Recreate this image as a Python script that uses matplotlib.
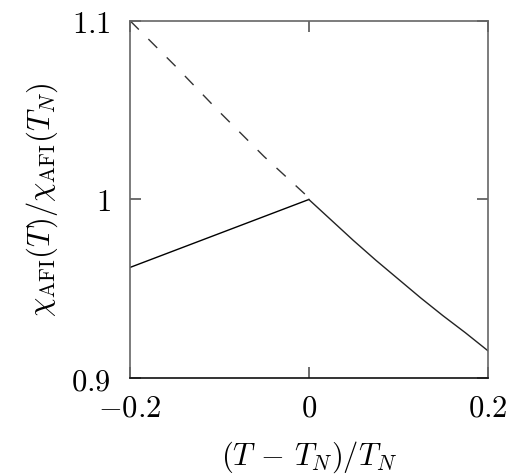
import matplotlib
matplotlib.use("Agg")
import matplotlib.pyplot as plt

plt.rcParams['mathtext.fontset'] = 'cm'
plt.rcParams['font.family'] = ['DejaVu Serif']

# dashed extrapolation (paramagnetic curve continued below T_N)
x_dash = [-0.2, -0.15, -0.1, -0.05, 0.0]
y_dash = [1.1, 1.075, 1.049, 1.024, 1.001]
# solid below T_N
x_low = [-0.2, 0.0]
y_low = [0.962, 1.0]
# solid above T_N
x_high = [0.0, 0.025, 0.05, 0.075, 0.1, 0.125, 0.15, 0.175, 0.2]
y_high = [1.0, 0.9885, 0.977, 0.966, 0.9555, 0.945, 0.935, 0.9255, 0.9155]

xticks = [-0.2, 0.0, 0.2]
xtick_labels = [r'$-0.2$', r'$0$', r'$0.2$']
yticks = [0.9, 1.0, 1.1]
ytick_labels = [r'$0.9$', r'$1$', r'$1.1$']

fig = plt.figure(figsize=(5.13, 4.75), dpi=100)
ax = fig.add_axes([130/513, 1-378.3/475, (487.7-130)/513, (378.3-20.7)/475])

ax.plot(x_dash, y_dash, color='#333333', lw=1.0, dashes=(9, 9.7))
ax.plot(x_low, y_low, color='black', lw=1.0)
ax.plot(x_high, y_high, color='#222222', lw=1.0)

ax.set_xlim(-0.2, 0.2)
ax.set_ylim(0.9, 1.1)
ax.set_xticks(xticks)
ax.set_xticklabels(xtick_labels)
ax.set_yticks(yticks)
ax.set_yticklabels(ytick_labels)
ax.tick_params(direction='in', length=8, width=1.2, color='#555555',
               top=True, right=True, labelsize=22, pad=10)
ax.tick_params(axis='y', pad=14)
for s in ['top', 'right', 'left']:
    ax.spines[s].set_color('#666666')
    ax.spines[s].set_linewidth(1.2)
ax.spines['bottom'].set_color('#111111')
ax.spines['bottom'].set_linewidth(1.2)

ax.set_xlabel(r'$(T\,-\,T_N)/T_N$', fontsize=22, labelpad=12)
ax.set_ylabel(r'$\chi_{\rm AFI}(T)/\chi_{\rm AFI}(T_N)$', fontsize=22, labelpad=8)

fig.savefig('out.png', dpi=100)
